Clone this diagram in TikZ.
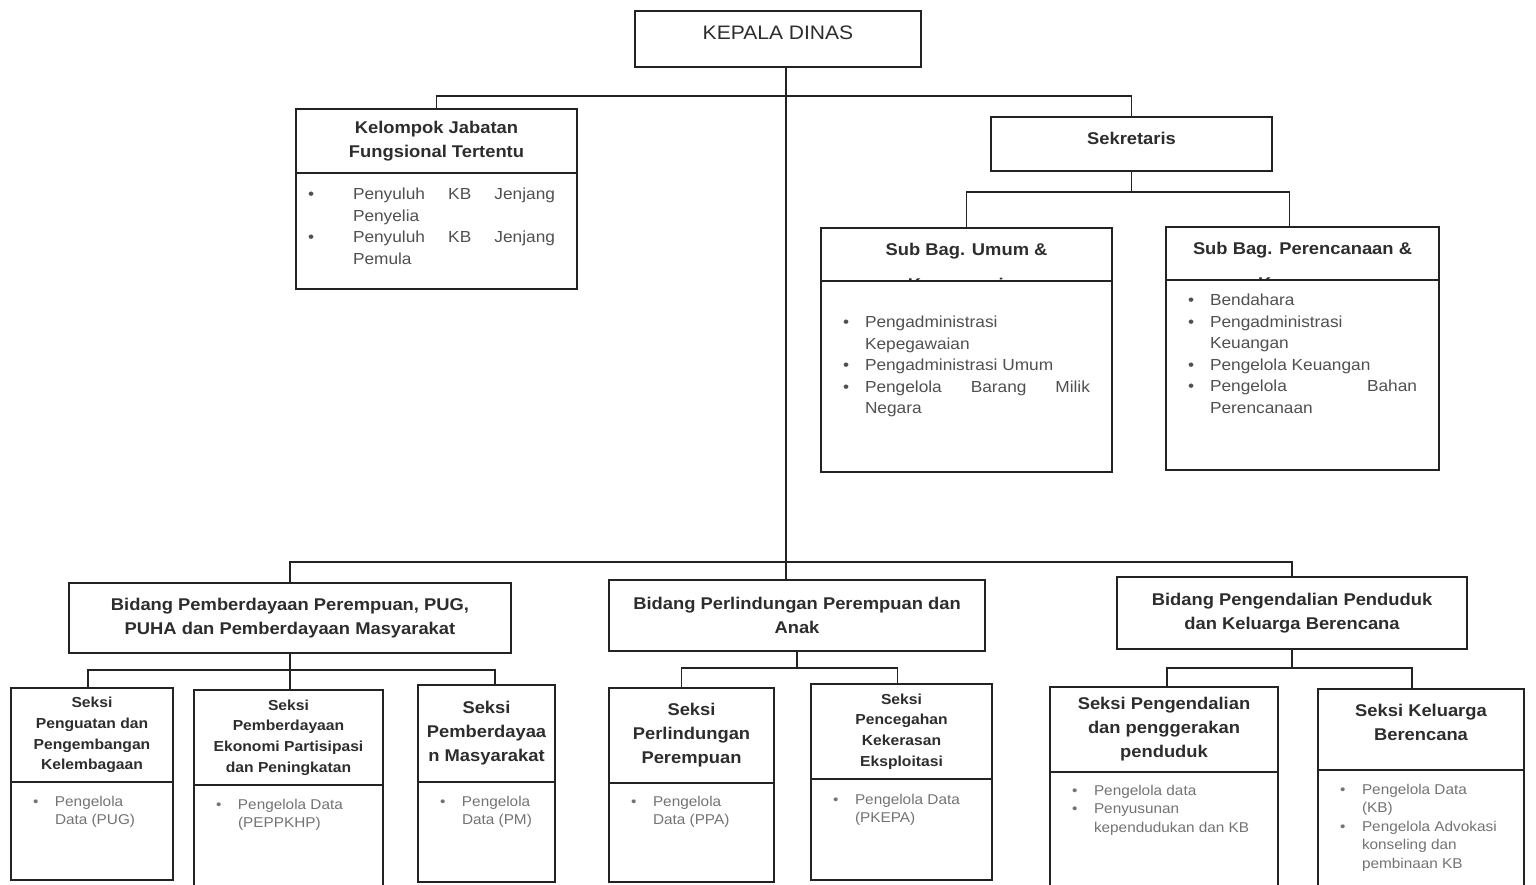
\documentclass[tikz,border=0pt]{standalone}
\usepackage{fontspec}
\setmainfont{Liberation Sans}[FakeStretch=1.08]
\usetikzlibrary{positioning, calc}
\definecolor{orgline}{RGB}{35,35,35}
\definecolor{orgtitle}{RGB}{45,45,45}
\definecolor{orgbody}{RGB}{80,80,80}
\definecolor{orglight}{RGB}{115,115,115}
\hyphenpenalty=10000
\exhyphenpenalty=10000
\newcommand{\bitem}[1][22pt]{\par\hangindent=#1\hangafter=1\noindent\makebox[#1][l]{\textbullet}}

\begin{document}
\begin{tikzpicture}[x=1pt, y=-1pt,
    unit/.style={rectangle, draw=orgline, line width=1.2pt, outer sep=0pt, inner sep=0pt, align=center, text=orgtitle, font=\bfseries\fontsize{17}{24}\selectfont},
    unitsmall/.style={unit, font=\bfseries\fontsize{14.5}{20.6}\selectfont},
    ttl/.style={inner sep=0pt, align=center, text=orgtitle, font=\bfseries\fontsize{17}{24}\selectfont},
    listbox/.style={rectangle, draw=orgline, line width=1.2pt, fill=white, outer sep=0pt, inner ysep=0pt, inner xsep=22pt, anchor=north west, text=orgbody, font=\fontsize{16}{21.5}\selectfont},
    listsmall/.style={listbox, text=orglight, font=\fontsize{14.2}{18.5}\selectfont},
    link/.style={draw=orgline, line width=1.2pt}
]
\useasboundingbox (0,0) rectangle (1536,885);

% Head and staff
\node[unit, minimum width=286, minimum height=56, text height=14pt, text depth=12pt, font=\fontsize{19.5}{24}\selectfont] (kadis) at (778,39) {KEPALA DINAS};
\node[unit, minimum width=281, minimum height=64] (jft) at (436.5,141) {Kelompok Jabatan\\Fungsional Tertentu};
\node[listbox, inner xsep=12pt] (jftlist) at (jft.south west) {\parbox[c][116pt][t]{257pt}{\rightskip=10pt\vspace*{15pt}%
  \bitem[45pt]Penyuluh KB Jenjang Penyelia
  \bitem[45pt]Penyuluh KB Jenjang Pemula\par}};
\node[unit, minimum width=281, minimum height=54, text height=13pt, text depth=12pt] (sekre) at (1131.5,144) {Sekretaris};

% Sub bagian
\node[unit, minimum width=291, minimum height=53] (umum) at (966.5,254.5) {};
\node[ttl, anchor=north] (umumtitle) at ([yshift=-14.6pt]umum.north) {Sub Bag. Umum \&\\[11pt]Kepegawaian};
\node[listbox] (umumlist) at (umum.south west) {\parbox[c][191pt][t]{247pt}{\vspace*{35pt}%
  \bitem Pengadministrasi\\Kepegawaian
  \bitem Pengadministrasi Umum
  \bitem Pengelola Barang Milik Negara\par}};
\node[unit, minimum width=273, minimum height=53] (renkeu) at (1302.5,253.5) {};
\node[ttl, anchor=north] (renkeutitle) at ([yshift=-14.6pt]renkeu.north) {Sub Bag. Perencanaan \&\\[11pt]Keuangan};
\node[listbox] (renkeulist) at (renkeu.south west) {\parbox[c][190pt][t]{229pt}{\vspace*{14pt}%
  \bitem Bendahara
  \bitem Pengadministrasi\\Keuangan
  \bitem Pengelola Keuangan
  \bitem Pengelola Bahan Perencanaan\par}};

% Bidang
\node[unit, minimum width=442, minimum height=70] (bidpp) at (290,618) {Bidang Pemberdayaan Perempuan, PUG,\\PUHA dan Pemberdayaan Masyarakat};
\node[unit, minimum width=376, minimum height=71] (bidppa) at (797,615.5) {Bidang Perlindungan Perempuan dan\\Anak};
\node[unit, minimum width=350, minimum height=72] (bidkb) at (1292,613) {Bidang Pengendalian Penduduk\\dan Keluarga Berencana};

% Seksi
\node[unitsmall, minimum width=162, minimum height=94] (lembaga) at (92,735) {Seksi\\Penguatan dan\\Pengembangan\\Kelembagaan};
\node[listsmall] (lembagalist) at (lembaga.south west) {\parbox[c][98pt][t]{118pt}{\vspace*{14pt}%
  \bitem Pengelola\\Data (PUG)\par}};
\node[unitsmall, minimum width=189, minimum height=95] (ekonomi) at (288.5,737.5) {Seksi\\Pemberdayaan\\Ekonomi Partisipasi\\dan Peningkatan};
\node[listsmall] (ekonomilist) at (ekonomi.south west) {\parbox[c][105pt][t]{145pt}{\vspace*{14pt}%
  \bitem Pengelola Data\\(PEPPKHP)\par}};
\node[unit, minimum width=137, minimum height=97] (masyarakat) at (486.5,733.5) {Seksi\\Pemberdayaa\\n Masyarakat};
\node[listsmall] (masyarakatlist) at (masyarakat.south west) {\parbox[c][100pt][t]{93pt}{\vspace*{14pt}%
  \bitem Pengelola\\Data (PM)\par}};
\node[unit, minimum width=165, minimum height=95] (lindung) at (691.5,735.5) {Seksi\\Perlindungan\\Perempuan};
\node[listsmall] (lindunglist) at (lindung.south west) {\parbox[c][99pt][t]{121pt}{\vspace*{13pt}%
  \bitem Pengelola\\Data (PPA)\par}};
\node[unitsmall, minimum width=181, minimum height=95] (cegah) at (901.5,731.5) {Seksi\\Pencegahan\\Kekerasan\\Eksploitasi};
\node[listsmall] (cegahlist) at (cegah.south west) {\parbox[c][101pt][t]{137pt}{\vspace*{15pt}%
  \bitem Pengelola Data\\(PKEPA)\par}};
\node[unit, minimum width=228, minimum height=85] (dalduk) at (1164,729.5) {Seksi Pengendalian\\dan penggerakan\\penduduk};
\node[listsmall] (daldukist) at (dalduk.south west) {\parbox[c][118pt][t]{184pt}{\vspace*{13pt}%
  \bitem Pengelola data
  \bitem Penyusunan\\kependudukan dan KB\par}};
\node[unit, minimum width=206, minimum height=81, text depth=14pt] (kb) at (1421,729.5) {Seksi Keluarga\\Berencana};
\node[listsmall] (kblist) at (kb.south west) {\parbox[c][120pt][t]{162pt}{\vspace*{14pt}%
  \bitem Pengelola Data\\(KB)
  \bitem Pengelola Advokasi\\konseling dan\\pembinaan KB\par}};

% Lines
\coordinate (trunk) at (786,562);
\draw[link] (kadis.south -| trunk) -- (trunk);
\draw[link] (jft.north) -- ++(0,-13) -| (sekre.north);
\draw[link] (sekre.south) -- ++(0,21) coordinate (sekbus);
\draw[link] (umum.north) |- (sekbus) -| ([xshift=-13pt]renkeu.north);
\draw[link] (bidpp.north) |- (trunk) -| (bidkb.north);
\draw[link] (trunk) -- (trunk |- bidppa.north);
\draw[link] (bidpp.south) -- ++(0,17) coordinate (ppbus);
\draw[link] ([xshift=-4pt]lembaga.north) |- (ppbus) -| ([xshift=8.5pt]masyarakat.north);
\draw[link] (ppbus) -- (ppbus |- ekonomi.north);
\draw[link] (bidppa.south) -- ++(0,17) coordinate (ppabus);
\draw[link] ([xshift=-10pt]lindung.north) |- (ppabus) -| ([xshift=-4pt]cegah.north);
\draw[link] (bidkb.south) -- ++(0,19) coordinate (kbbus);
\draw[link] ([xshift=3pt]dalduk.north) |- (kbbus) -| ([xshift=-9pt]kb.north);

\end{tikzpicture}
\end{document}
